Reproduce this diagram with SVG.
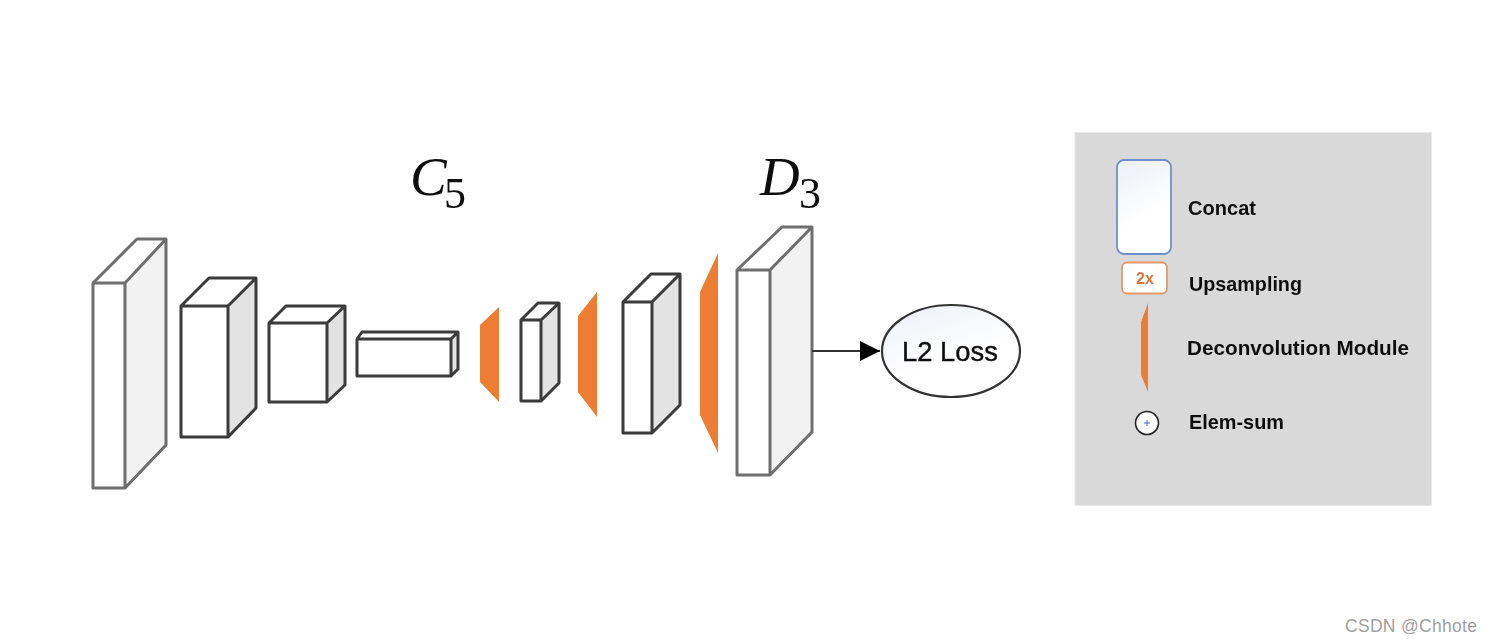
<svg xmlns="http://www.w3.org/2000/svg" width="1492" height="642" viewBox="0 0 1492 642">
<style>
.f{fill:#fff}
.e{stroke-width:3;stroke-linejoin:round;fill:none}
.l{stroke:#6e6e6e}
.d{stroke:#3a3a3a}
.sl{fill:#f2f2f2}
.sd{fill:#e3e3e3}
.o{fill:#ed7d31}
.lg{font-family:"Liberation Sans",Arial,sans-serif;font-weight:bold;font-size:20.5px;fill:#111}
.m{font-family:"Liberation Serif","Times New Roman",serif;fill:#111}
</style>
<defs>
<filter id="b" x="-5%" y="-5%" width="110%" height="110%"><feGaussianBlur stdDeviation="0.55"/></filter>
<linearGradient id="g1" x1="0" y1="0" x2="0.3" y2="1"><stop offset="0" stop-color="#eceff8"/><stop offset="0.7" stop-color="#fff"/></linearGradient>
<linearGradient id="g2" x1="0" y1="0" x2="0.5" y2="1"><stop offset="0" stop-color="#eef0f8"/><stop offset="0.7" stop-color="#fff"/></linearGradient>
<marker id="ah" markerUnits="userSpaceOnUse" markerWidth="22" markerHeight="22" refX="20" refY="10" orient="auto"><path d="M0 0L20 10L0 20Z" fill="#000"/></marker>
</defs>
<rect width="1492" height="642" fill="#fff"/>
<g filter="url(#b)">
<g id="box1"><path class="sl" d="M125 283L166 239V445L125 488Z"/><path class="f" d="M93 283H125V488H93Z"/><path class="e l" d="M93 283H125V488H93ZM93 283L137 239H166L125 283M166 239V445L125 488"/></g>
<g id="box2"><path class="sd" d="M228 306L256 278V408L228 437Z"/><path class="f" d="M181 306H228V437H181Z"/><path class="e d" d="M181 306H228V437H181ZM181 306L209 278H256L228 306M256 278V408L228 437"/></g>
<g id="box3"><path class="sd" d="M327 323L345 306V385L327 402Z"/><path class="f" d="M269 323H327V402H269Z"/><path class="e d" d="M269 323H327V402H269ZM269 323L286 306H345L327 323M345 306V385L327 402"/></g>
<g id="box4"><path class="sd" d="M451 339L458 332V369L451 376Z"/><path class="f" d="M357 339H451V376H357Z"/><path class="e d" d="M357 339H451V376H357ZM357 339L362 332H458L451 339M458 332V369L451 376"/></g>
<g id="deconv1"><path class="o" d="M480 325L499 307V402L480 382Z"/></g>
<g id="box5"><path class="sd" d="M541 320L559 303V383L541 401Z"/><path class="f" d="M521 320H541V401H521Z"/><path class="e d" d="M521 320H541V401H521ZM521 320L538 303H559L541 320M559 303V383L541 401"/></g>
<g id="deconv2"><path class="o" d="M578 316L597 292V417L578 392Z"/></g>
<g id="box6"><path class="sd" d="M652 302L680 274V405L652 433Z"/><path class="f" d="M623 302H652V433H623Z"/><path class="e d" d="M623 302H652V433H623ZM623 302L651 274H680L652 302M680 274V405L652 433"/></g>
<g id="deconv3"><path class="o" d="M700 292L718 253V453L700 415Z"/></g>
<g id="box7"><path class="sl" d="M770 270L812 227V432L770 475Z"/><path class="f" d="M737 270H770V475H737Z"/><path class="e l" d="M737 270H770V475H737ZM737 270L782 227H812L770 270M812 227V432L770 475"/></g>
<g id="connectors"><line x1="812" y1="351" x2="880" y2="351" stroke="#333" stroke-width="2" marker-end="url(#ah)"/></g>
<g id="l2loss"><ellipse cx="951" cy="351" rx="69" ry="46" fill="url(#g2)" stroke="#333" stroke-width="2.2"/><text x="950" y="361" text-anchor="middle" font-family="'Liberation Sans',Arial,sans-serif" font-size="28" fill="#111" stroke="#111" stroke-width="0.4" textLength="96" lengthAdjust="spacingAndGlyphs">L2 Loss</text></g>
<g id="c5"><text class="m" x="410" y="195" font-style="italic" font-size="55" textLength="36">C</text><text class="m" x="444" y="208" font-size="44">5</text></g>
<g id="d3"><text class="m" x="760" y="195" font-style="italic" font-size="55" textLength="37">D</text><text class="m" x="799" y="208" font-size="44">3</text></g>
<g id="legend">
<rect x="1075" y="132.500" width="356.500" height="373" fill="#d9d9d9" stroke="#e8e8e8"/>
<g id="legend-concat"><rect x="1117" y="160" width="54" height="94" rx="7" fill="url(#g1)" stroke="#6e8fc8" stroke-width="1.800"/><text class="lg" x="1188" y="215" textLength="68" lengthAdjust="spacingAndGlyphs">Concat</text></g>
<g id="legend-upsampling"><rect x="1122" y="262.500" width="45" height="31" rx="5" fill="#fff" stroke="#e39a6a" stroke-width="1.800"/><text x="1145" y="284" text-anchor="middle" font-family="'Liberation Sans',Arial,sans-serif" font-size="16" font-weight="bold" fill="#d9773a">2x</text><text class="lg" x="1189" y="291" textLength="113" lengthAdjust="spacingAndGlyphs">Upsampling</text></g>
<g id="legend-deconv"><path class="o" d="M1141 322L1148 303V392L1141 375Z"/><text class="lg" x="1187" y="355" textLength="222" lengthAdjust="spacingAndGlyphs">Deconvolution Module</text></g>
<g id="legend-sum"><circle cx="1147" cy="423" r="11.500" fill="#fff" stroke="#222" stroke-width="1.600"/><path d="M1144 423H1150M1147 420V426" stroke="#4a62c0" stroke-width="1"/><text class="lg" x="1189" y="429" textLength="95" lengthAdjust="spacingAndGlyphs">Elem-sum</text></g>
</g>
</g>
<text x="1345" y="632" font-family="'Liberation Sans',Arial,sans-serif" font-size="17.500" fill="#a0a0a0" textLength="132">CSDN @Chhote</text>
</svg>
